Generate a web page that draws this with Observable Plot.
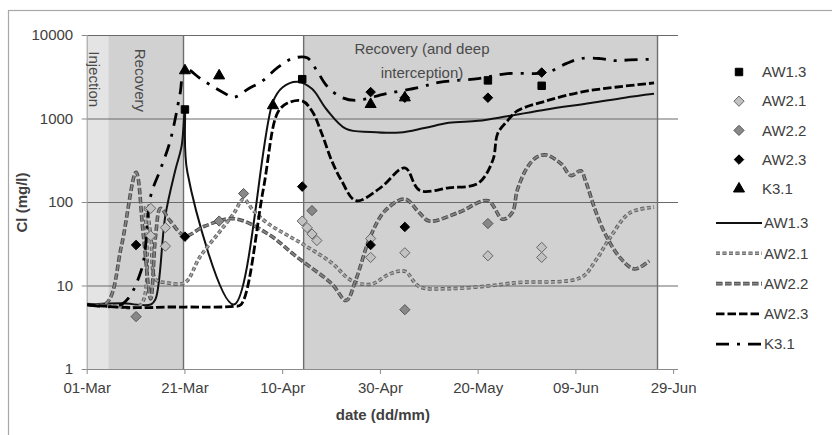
<!DOCTYPE html>
<html><head><meta charset="utf-8">
<script src="https://cdn.jsdelivr.net/npm/d3@7"></script>
<script src="https://cdn.jsdelivr.net/npm/@observablehq/plot@0.6"></script>
<style>
body{margin:0;background:#fff}
svg{display:block}
g[aria-label="x-axis label"] text, g[aria-label="y-axis label"] text{font-weight:bold}
</style>
</head><body><div id="chart"></div>
<script>
// ---------- data ----------
const seriesNames = ["AW1.3", "AW2.1", "AW2.2", "AW2.3", "K3.1"];
const xTicks = ["03-01", "03-21", "04-10", "04-30", "05-20", "06-09", "06-29"];
const yTicks = [1, 10, 100, 1000, 10000];
const xDomain = ["03-01", "06-30"];

// shaded periods
const regionNames = ["Injection", "Recovery", "Recovery (and deep\ninterception)"];
const regionStart = ["03-01", "03-05T10:00", "04-14T07:00"];
const regionEnd = ["03-05T10:00", "03-20T17:00", "06-25T17:00"];
const regionLabelX = ["03-02T08:00", "03-11T16:00", "05-08T12:00"];
const regionLabelY = [3000, 2900, 5400];

// observed values (markers)
const obsAW13 = [["03-21",1300],["04-14",3000],["05-22",2900],["06-02",2500]];
const obsAW21 = [["03-14",40],["03-14",85],["03-17",30],["03-17",50],["04-14",60],["04-15",50],["04-16",42],["04-17",35],["04-28",37],["04-28",22],["05-05",25],["05-22",23],["06-02",29],["06-02",22]];
const obsAW22 = [["03-11",4.3],["03-28",60],["04-02",128],["04-16",80],["05-05",5.2],["05-22",56]];
const obsAW23 = [["03-11",31],["03-21",39],["04-14",155],["04-28",31],["04-28",2100],["05-05",51],["05-05",1800],["05-22",1800],["06-02",3600]];
const obsK31 = [["03-21",3800],["03-28",3300],["04-08",1450],["04-28",1500],["05-05",1800]];

// simulated values (lines)
const simAW13 = [["03-01",6],["03-08",6.2],["03-14",6],["03-15",7],["03-17",70],["03-19",240],["03-20T08:00",480],["03-21",1300],["03-21T12:00",230],["03-31",6],["04-08",1600],["04-10",2400],["04-13",2800],["04-16",2300],["04-19",1300],["04-23",760],["04-28",700],["05-04",690],["05-09",780],["05-14",900],["05-20",950],["05-26",1080],["06-03",1300],["06-12",1550],["06-19",1800],["06-25",2000]];
const simAW21 = [["03-01",6],["03-06",5.8],["03-12",6],["03-13",90],["03-14",40],["03-15",12],["03-17",11],["03-21",11],["03-24",22],["03-28",44],["03-31",74],["04-02",110],["04-04",80],["04-07",56],["04-14",32],["04-20",19],["04-24",11.7],["04-28",10.5],["05-02",14],["05-05",15],["05-08",9.8],["05-14",9.3],["05-22",10],["05-28",11],["06-10",12.6],["06-13",20],["06-16",38],["06-20",75],["06-25",88]];
const simAW22 = [["03-01",6],["03-05",6.3],["03-08",30],["03-11",230],["03-12T12:00",40],["03-14",7],["03-15",40],["03-16",85],["03-18",60],["03-21",40],["03-25",52],["03-31",64],["04-07",42],["04-13",22],["04-20",10.7],["04-23",6.7],["04-25",12],["04-28",40],["05-01",80],["05-05",110],["05-08",75],["05-10",60],["05-16",76],["05-22",105],["05-25",63],["05-27",76],["05-28",140],["05-30",260],["06-01",350],["06-03",370],["06-06",290],["06-08",210],["06-10",240],["06-11",180],["06-13",80],["06-15",42],["06-18",22],["06-21",16],["06-24",20]];
const simAW23 = [["03-01",6],["03-07",5.6],["03-13",5.5],["03-17",5.6],["03-21",5.6],["03-31",5.7],["04-01T12:00",6],["04-06",140],["04-09",1200],["04-11",1550],["04-14",1650],["04-16",1250],["04-18",670],["04-20",320],["04-22",185],["04-25",105],["04-30",150],["05-05",260],["05-08",140],["05-14",150],["05-20",170],["05-23",320],["05-24",670],["05-26",950],["05-28",1250],["06-03",1650],["06-10",2100],["06-17",2400],["06-25",2700]];
const simK31 = [["03-01",6],["03-08",6],["03-12",15],["03-14",120],["03-16",250],["03-18",550],["03-20",2000],["03-21",4000],["03-24",3100],["03-26",2600],["03-29",2050],["03-31",1820],["04-03",2300],["04-06",2900],["04-09",4150],["04-12",5300],["04-15",5400],["04-17",3800],["04-19",2500],["04-22",1820],["04-25",1670],["05-01",2000],["05-08",2400],["05-12",2750],["05-20",3050],["05-26",3500],["06-03",3600],["06-07",4600],["06-10",5300],["06-14",5300],["06-17",5000],["06-20",5100],["06-25",5200]];

const observed = [obsAW13, obsAW21, obsAW22, obsAW23, obsK31];
const simulated = [simAW13, simAW21, simAW22, simAW23, simK31];

// ---------- styles ----------
const markerStyle = [
  {symbol: "square", fill: "#000", stroke: "#000", r: 4.2},
  {symbol: "diamond2", fill: "#c2c2c2", stroke: "#666", r: 4.6},
  {symbol: "diamond2", fill: "#888", stroke: "#555", r: 4.6},
  {symbol: "diamond2", fill: "#000", stroke: "#000", r: 4.3},
  {symbol: "triangle", fill: "#000", stroke: "#000", r: 4.1}
];
const lineStyle = [
  [{stroke: "#111", w: 2, dash: null}],
  [{stroke: "#5e5e5e", w: 3.6, dash: "4,2.5"}, {stroke: "#a4a4a4", w: 1.7, dash: "4,2.5"}],
  [{stroke: "#4a4a4a", w: 3.6, dash: "6.5,2.5"}, {stroke: "#858585", w: 1.7, dash: "6.5,2.5"}],
  [{stroke: "#000", w: 2.8, dash: "8.5,3"}],
  [{stroke: "#000", w: 2.8, dash: "13,8,3,8"}]
];
const regionFill = ["#e4e4e4", "#d1d1d1", "#d1d1d1"];

// ---------- build ----------
const P = s => new Date(`2013-${s}${s.length > 5 ? "" : "T00:00"}Z`);
const rows = (arr, name) => arr.map(([d, v]) => ({date: P(d), value: v, series: name}));

const regions = regionNames.map((n, i) => ({name: n, x1: P(regionStart[i]), x2: P(regionEnd[i]), lx: P(regionLabelX[i]), ly: regionLabelY[i]}));

const marks = [];
regions.forEach((r, i) => marks.push(Plot.rect([r], {x1: "x1", x2: "x2", y1: 1, y2: 10000, fill: regionFill[i]})));
marks.push(Plot.ruleY(yTicks.filter(t => t > 1), {stroke: "#6a6a6a", strokeWidth: 1.2}));
marks.push(Plot.ruleX([regions[1].x2, regions[2].x1, regions[2].x2], {y1: 1, y2: 10000, stroke: "#6e6e6e", strokeWidth: 1.4}));
marks.push(Plot.ruleX([P(xDomain[0])], {y1: 1, y2: 10000, stroke: "#a0a0a0"}));
marks.push(Plot.ruleY([1], {stroke: "#8a8a8a", strokeWidth: 1.2}));
marks.push(Plot.axisX({ticks: xTicks.map(P), tickFormat: d3.utcFormat("%d-%b"), tickSize: 5, tickPadding: 8, stroke: "#8a8a8a", fill: "#404040", label: "date (dd/mm)", labelAnchor: "center", labelOffset: 50, labelArrow: "none"}));
marks.push(Plot.axisY({ticks: yTicks, tickFormat: d3.format("d"), tickSize: 5, tickPadding: 9, stroke: "#8a8a8a", fill: "#404040", label: "Cl (mg/l)", labelAnchor: "center", labelOffset: 71, labelArrow: "none"}));

simulated.forEach((s, i) => {
  lineStyle[i].forEach(st => marks.push(Plot.line(rows(s, seriesNames[i]), {x: "date", y: "value", curve: "catmull-rom", stroke: st.stroke, strokeWidth: st.w, strokeDasharray: st.dash, strokeLinecap: "butt", strokeLinejoin: "round"})));
});
observed.forEach((o, i) => {
  const m = markerStyle[i];
  marks.push(Plot.dot(rows(o, seriesNames[i]), {x: "date", y: "value", symbol: m.symbol, fill: m.fill, stroke: m.stroke, strokeWidth: 1, r: m.r}));
});
marks.push(Plot.text(regions.slice(0, 2), {x: "lx", y: "ly", text: "name", rotate: 90, fill: "#4a4a4a", fontSize: 15, textAnchor: "middle"}));
marks.push(Plot.text(regions.slice(2), {x: "lx", y: "ly", text: "name", fill: "#4a4a4a", fontSize: 15, textAnchor: "middle", lineHeight: 1.6}));

const chart = Plot.plot({
  width: 832, height: 435,
  marginLeft: 86.7, marginRight: 154, marginTop: 35, marginBottom: 66,
  style: {fontFamily: "'Liberation Sans', Arial, sans-serif", fontSize: "15px", color: "#404040", background: "#fff"},
  x: {type: "utc", domain: xDomain.map(P)},
  y: {type: "log", domain: [1, 10000]},
  marks
});

// outer chart border and legend
const svg = d3.select(chart);
svg.insert("rect", ":first-child").attr("x", 8.5).attr("y", 10.5).attr("width", 1000).attr("height", 1000).attr("fill", "none").attr("stroke", "#a8a8a8").attr("stroke-width", 1.2);
const lg = svg.append("g").attr("font-family", "'Liberation Sans', Arial, sans-serif").attr("font-size", 15).attr("fill", "#404040").attr("text-anchor", "start");
const symMap = {square: d3.symbolSquare, diamond2: d3.symbolDiamond2, triangle: d3.symbolTriangle};
seriesNames.forEach((n, i) => {
  const m = markerStyle[i], y = 72 + 29.2 * i;
  lg.append("path").attr("transform", `translate(739,${y})`).attr("d", d3.symbol(symMap[m.symbol], Math.PI * m.r * m.r)()).attr("fill", m.fill).attr("stroke", m.stroke);
  lg.append("text").attr("x", 762).attr("y", y).attr("dy", "0.35em").attr("text-anchor", "start").text(n);
});
seriesNames.forEach((n, i) => {
  const y = 223 + 30.3 * i;
  lineStyle[i].forEach(st => lg.append("line").attr("x1", 716).attr("x2", 762).attr("y1", y).attr("y2", y).attr("stroke", st.stroke).attr("stroke-width", st.w).attr("stroke-dasharray", st.dash));
  lg.append("text").attr("x", 764).attr("y", y).attr("dy", "0.35em").attr("text-anchor", "start").text(n);
});
document.getElementById("chart").appendChild(chart);
</script>
</body></html>
